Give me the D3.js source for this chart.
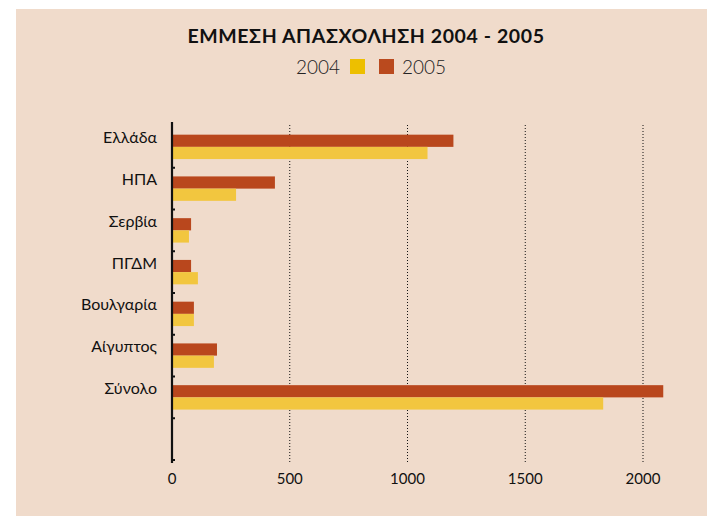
<!DOCTYPE html>
<html lang="el">
<head>
<meta charset="utf-8">
<title>Έμμεση απασχόληση</title>
<script src="https://d3js.org/d3.v7.min.js"></script>
<style>
  body { margin: 0; background: #fff; }
  text { font-family: Lato, "Open Sans", sans-serif; fill: #111; }
</style>
</head>
<body>
<div id="chart"></div>
<script>
  // data
  let categories = ['Ελλάδα', 'ΗΠΑ', 'Σερβία', 'ΠΓΔΜ', 'Βουλγαρία', 'Αίγυπτος', 'Σύνολο', ''];
  let years = ['2005', '2004'];
  let values2004 = [1085, 272, 72, 110, 93, 178, 1831, null];
  let values2005 = [1195, 437, 81, 81, 93, 191, 2086, null];
  let xTicks = [0, 500, 1000, 1500, 2000];
  let colors = {'2004': '#F2C63F', '2005': '#B9471D'};
  let legendColors = {'2004': '#EDBF00', '2005': '#BA4A1E'};

  let W = 707, H = 516;
  let svg = d3.select('#chart').append('svg')
    .attr('width', W).attr('height', H);

  svg.append('rect')
    .attr('x', 16).attr('y', 9)
    .attr('width', W - 16).attr('height', H - 9)
    .attr('fill', '#F0DBCB');

  let x = d3.scaleLinear().domain([0, 2000]).range([172, 643]);
  let y = d3.scaleBand().domain(categories).range([126, 460]);
  let y2 = d3.scaleBand().domain(years).range([0, y.bandwidth()]).paddingOuter(0.71).paddingInner(0);

  // title
  svg.append('text')
    .attr('x', 366).attr('y', 43)
    .attr('text-anchor', 'middle')
    .attr('font-size', 19.5)
    .attr('font-weight', 'bold')
    .attr('letter-spacing', 0.6)
    .text('ΕΜΜΕΣΗ ΑΠΑΣΧΟΛΗΣΗ 2004 - 2005');

  // legend
  let legend = svg.append('g');
  legend.append('text')
    .attr('x', 340).attr('y', 74)
    .attr('text-anchor', 'end')
    .attr('font-size', 19).attr('font-weight', 300)
    .style('fill', '#222')
    .text('2004');
  legend.append('rect')
    .attr('x', 350).attr('y', 59).attr('width', 15).attr('height', 15)
    .attr('fill', legendColors['2004']);
  legend.append('rect')
    .attr('x', 379).attr('y', 59).attr('width', 15).attr('height', 15)
    .attr('fill', legendColors['2005']);
  legend.append('text')
    .attr('x', 402).attr('y', 74)
    .attr('font-size', 19).attr('font-weight', 300)
    .style('fill', '#222')
    .text('2005');

  // dotted grid lines
  svg.append('g')
    .selectAll('line')
    .data(xTicks.slice(1))
    .join('line')
    .attr('x1', d => x(d)).attr('x2', d => x(d))
    .attr('y1', 125).attr('y2', 462)
    .attr('stroke', '#111')
    .attr('stroke-width', 1)
    .attr('stroke-dasharray', '1,2');

  // bars
  let rows = categories.map((c, i) => ({cat: c, '2004': values2004[i], '2005': values2005[i]}))
    .filter(d => d['2004'] != null);

  let groups = svg.append('g')
    .selectAll('g')
    .data(rows)
    .join('g')
    .attr('transform', d => 'translate(0,' + y(d.cat) + ')');

  groups.selectAll('rect')
    .data(d => years.map(k => ({key: k, value: d[k]})))
    .join('rect')
    .attr('x', x(0))
    .attr('y', d => y2(d.key))
    .attr('width', d => x(d.value) - x(0))
    .attr('height', y2.bandwidth())
    .attr('fill', d => colors[d.key]);

  // y axis
  let yAxis = svg.append('g').attr('transform', 'translate(' + x(0) + ',0)');
  yAxis.append('line')
    .attr('x1', 0).attr('x2', 0)
    .attr('y1', 122).attr('y2', 463)
    .attr('stroke', '#111').attr('stroke-width', 2.2);
  yAxis.selectAll('line.tick')
    .data(categories.slice(1).concat(['end']))
    .join('line')
    .attr('class', 'tick')
    .attr('x1', 0).attr('x2', 3)
    .attr('y1', (d, i) => y(categories[i]) + y.bandwidth())
    .attr('y2', (d, i) => y(categories[i]) + y.bandwidth())
    .attr('stroke', '#111').attr('stroke-width', 2);
  yAxis.selectAll('text')
    .data(rows)
    .join('text')
    .attr('x', -15)
    .attr('y', d => y(d.cat) + y.bandwidth() / 2 - 9)
    .attr('dy', '0.35em')
    .attr('text-anchor', 'end')
    .attr('font-size', 16)
    .text(d => d.cat);

  // x labels
  svg.append('g')
    .selectAll('text')
    .data(xTicks)
    .join('text')
    .attr('x', d => x(d))
    .attr('y', 484)
    .attr('text-anchor', 'middle')
    .attr('font-size', 15)
    .text(d => d);
</script>
</body>
</html>
